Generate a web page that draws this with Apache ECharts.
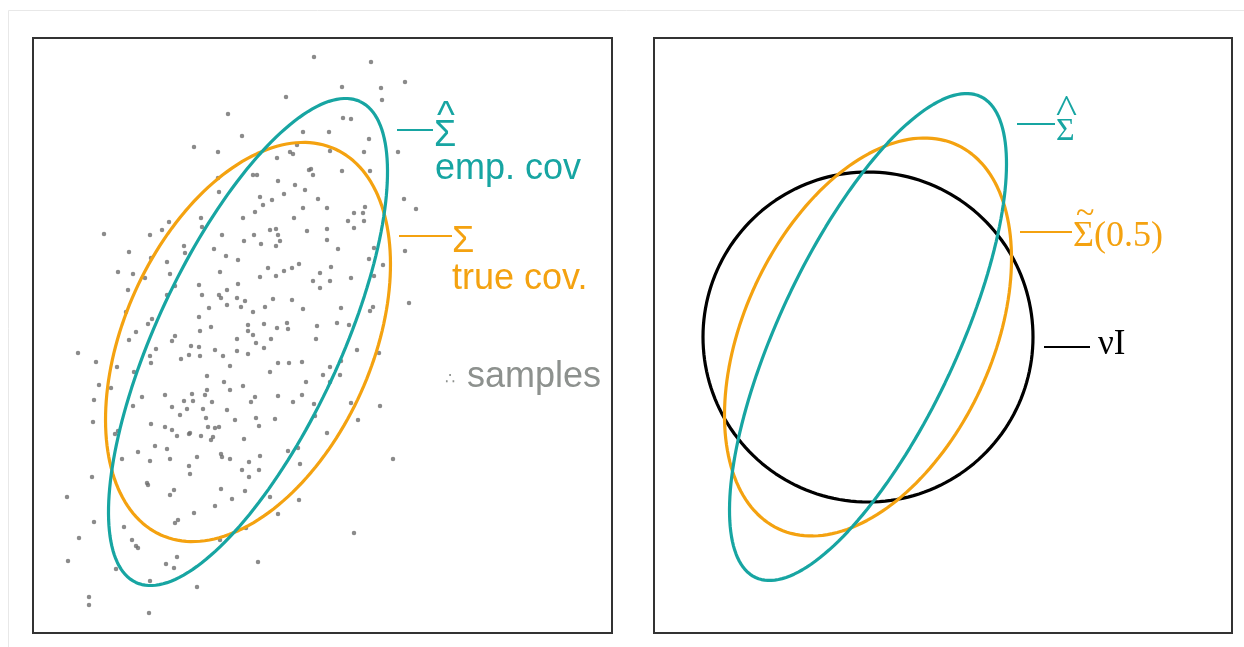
<!DOCTYPE html>
<html>
<head>
<meta charset="utf-8">
<title>Covariance shrinkage</title>
<script src="https://cdn.jsdelivr.net/npm/echarts@6/dist/echarts.min.js"></script>
<style>
  html, body { margin: 0; padding: 0; background: #ffffff; }
  #chart { width: 1244px; height: 647px; }
</style>
</head>
<body>
<div id="chart"></div>
<script>
// Sample points drawn from the true distribution (left panel)
const samplePoints = [
  [-0.20,2.28],[-0.54,1.95],[-0.30,1.90],[-0.30,1.64],[-0.29,1.50],[-0.79,1.20],[-0.47,1.24],[-0.46,1.15],
  [-0.86,1.12],[-1.44,1.08],[-0.98,1.07],[-0.26,1.07],
  [0.66,2.85],[1.23,2.80],[1.57,2.60],[0.94,2.55],[1.33,2.54],[0.38,2.45],[1.34,2.42],[0.95,2.24],
  [1.03,2.23],[-0.06,2.06],[0.55,2.10],[0.81,2.10],[1.21,2.03],[1.50,1.90],[0.49,1.97],[0.42,1.90],
  [0.45,1.88],[0.29,1.84],[0.82,1.91],[1.16,1.90],[0.61,1.72],[0.63,1.73],[0.65,1.67],[0.94,1.71],
  [1.22,1.71],[0.05,1.67],[0.09,1.67],[0.30,1.61],[0.47,1.57],[0.57,1.52],[0.12,1.45],[0.36,1.48],
  [0.24,1.42],[0.70,1.43],[1.56,1.43],[0.15,1.37],[0.55,1.34],[0.79,1.34],[1.17,1.35],[1.68,1.33],
  [0.07,1.30],[1.06,1.29],[1.15,1.29],[0.46,1.24],[-0.05,1.24],[1.00,1.21],[1.16,1.21],[0.22,1.12],
  [0.28,1.13],[0.30,1.07],[0.59,1.11],[0.79,1.13],[1.06,1.14],[0.06,1.07],
  [-1.19,0.90],[-0.97,0.84],[-0.64,0.96],[-0.63,0.89],[-0.34,0.93],[-0.22,0.86],[-0.81,0.80],[-1.30,0.70],
  [-1.15,0.68],[-0.78,0.68],[-1.03,0.64],[-0.28,0.70],[-0.49,0.57],[-0.73,0.56],[-1.20,0.52],[-0.21,0.52],
  [-0.46,0.47],[-0.81,0.47],[-0.29,0.47],[-0.27,0.44],[-0.21,0.37],[-0.39,0.34],[-1.22,0.30],[-0.49,0.25],
  [-0.96,0.23],[-1.00,0.18],[-0.48,0.11],[-0.37,0.15],[-1.12,0.10],[-0.73,0.06],[-0.76,0.01],[-1.19,0.02],
  [-0.57,-0.04],[-0.49,-0.05],[-0.33,-0.08],[-0.92,-0.07],[-1.70,-0.11],[-0.59,-0.13],[-0.48,-0.14],[-0.67,-0.17],
  [-0.25,-0.14],[-0.97,-0.21],[-0.98,-0.14],[-1.52,-0.20],[-0.18,-0.24],[-1.31,-0.25],[-1.14,-0.30],[-0.41,-0.34],
  [-0.24,-0.40],[-1.49,-0.43],[-1.37,-0.46],[-0.18,-0.48],[-0.41,-0.48],[-0.56,-0.52],[-0.43,-0.53],[-0.83,-0.53],
  [-1.06,-0.55],[-1.54,-0.58],[-0.55,-0.59],[-0.64,-0.59],[-0.36,-0.60],[-1.15,-0.64],[-0.76,-0.65],[-0.61,-0.67],
  [-0.45,-0.67],[-0.21,-0.68],[-0.68,-0.73],[-0.42,-0.76],[-0.13,-0.78],[-1.55,-0.80],[-0.97,-0.82],[-0.83,-0.85],
  [-0.76,-0.88],[-0.58,-0.91],[-0.40,-0.85],[-0.33,-0.86],[-0.29,-0.85],[-1.33,-0.92],[-1.30,-0.89],[-0.71,-0.94],
  [-0.47,-0.94],
  [-0.04,1.01],[0.13,0.98],[0.28,0.96],[0.32,1.01],[0.79,1.02],[0.90,0.93],[1.26,0.94],[1.57,0.91],
  [-0.10,0.82],[1.21,0.83],[1.35,0.77],[0.20,0.74],[0.51,0.78],[0.44,0.74],[0.36,0.71],[0.28,0.66],
  [0.83,0.75],[0.72,0.69],[0.12,0.65],[1.26,0.66],[1.03,0.64],[0.65,0.61],[0.82,0.61],[0.72,0.54],
  [-0.10,0.58],[-0.11,0.44],[-0.03,0.41],[0.25,0.43],[0.44,0.42],[1.61,0.39],[-0.07,0.35],[0.17,0.35],
  [0.55,0.33],[0.93,0.34],[1.25,0.35],[1.22,0.31],[0.05,0.30],[0.16,0.18],[0.39,0.19],[0.40,0.13],
  [0.29,0.14],[0.00,0.17],[0.00,0.11],[0.05,0.07],[0.69,0.16],[0.89,0.19],[1.01,0.17],[-0.11,0.03],
  [0.23,0.03],[0.68,0.03],[0.08,-0.01],[0.16,-0.06],[-0.11,-0.09],[0.00,-0.12],[1.09,-0.08],[1.31,-0.11],
  [0.30,-0.21],[0.41,-0.21],[0.54,-0.20],[0.22,-0.30],[0.93,-0.19],[0.82,-0.25],[0.75,-0.33],[0.92,-0.33],
  [0.58,-0.40],[0.82,-0.40],[-0.05,-0.44],[0.07,-0.55],[0.03,-0.60],[0.30,-0.54],[0.45,-0.60],[0.54,-0.53],
  [0.66,-0.62],[0.67,-0.74],[1.03,-0.61],[1.32,-0.64],[0.08,-0.76],[0.11,-0.84],[0.27,-0.77],[1.10,-0.78],
  [0.79,-0.91],
  [-0.59,-0.92],[-0.35,-0.95],[-0.37,-0.98],[-0.93,-1.04],[-0.81,-1.07],[-1.10,-1.10],[-0.27,-1.12],[-0.26,-1.15],
  [-0.51,-1.15],[-0.18,-1.17],[-1.26,-1.17],[-0.98,-1.19],[-0.78,-1.17],[-0.59,-1.24],[-0.58,-1.32],[-1.56,-1.35],
  [-1.01,-1.41],[-1.00,-1.43],[-0.74,-1.48],[-0.78,-1.53],[-0.27,-1.47],[-0.16,-1.57],[-1.81,-1.55],[-0.33,-1.64],
  [-0.54,-1.71],[-1.54,-1.80],[-1.24,-1.85],[-0.73,-1.81],[-0.70,-1.78],[-1.69,-1.96],[-1.16,-1.98],[-1.12,-2.04],
  [-1.10,-2.06],[-0.71,-2.15],[-1.80,-2.19],[-0.82,-2.22],[-0.74,-2.26],[-1.32,-2.27],[-0.98,-2.39],[-0.51,-2.45],
  [-1.59,-2.55],[-1.59,-2.63],[-0.99,-2.71],[-0.28,-1.98],
  [-0.04,-0.97],[0.12,-1.14],[0.01,-1.20],[0.50,-1.06],[0.40,-1.09],[0.52,-1.22],[-0.06,-1.28],[0.11,-1.28],
  [0.01,-1.35],[1.45,-1.17],[-0.03,-1.49],[0.22,-1.55],[0.51,-1.58],[0.30,-1.72],[-0.02,-1.86],[1.06,-1.91],
  [0.10,-2.20]
];

// Covariance ellipses: [centerX, centerY, semiMajor, semiMinor, angleDeg]
const empCovLeft   = [0, 0, 2.653, 0.916, 65.0];
const trueCovLeft  = [0, 0, 2.117, 1.237, 65.7];
const empCovRight  = [0, 0, 2.655, 0.893, 64.95];
const shrunkRight  = [0, 0, 2.117, 1.240, 65.1];
const scaledIdent  = [0, 0, 1.650, 1.650, 0];

// Axis extents of each panel (data units)
const leftXRange  = [-2.15, 3.64];
const leftYRange  = [-2.91, 3.04];
const rightXRange = [-2.14, 3.64];
const rightYRange = [-2.96, 2.99];

const TEAL = '#17a5a2';
const ORANGE = '#f4a210';
const GRAY_DOT = '#6e6e6e';
const GRAY_TEXT = '#8d918e';

// Outline of an ellipse from its parameters, traced every 2 degrees
function ellipseOutline(p) {
  const [cx, cy, a, b, deg] = p;
  const th = deg * Math.PI / 180;
  const pts = [];
  for (let k = 0; k <= 180; k++) {
    const t = k * 2 * Math.PI / 180;
    const u = a * Math.cos(t), v = b * Math.sin(t);
    pts.push([cx + u * Math.cos(th) - v * Math.sin(th), cy + u * Math.sin(th) + v * Math.cos(th)]);
  }
  return pts;
}

function outlineSeries(p, idx, color) {
  return {
    type: 'line', xAxisIndex: idx, yAxisIndex: idx,
    data: ellipseOutline(p), showSymbol: false, symbol: 'none',
    lineStyle: { color: color, width: 3.2 }, z: 3, silent: true
  };
}

function hiddenAxis(gridIndex, range) {
  return {
    type: 'value', gridIndex: gridIndex, min: range[0], max: range[1],
    axisLine: { show: false }, axisTick: { show: false },
    axisLabel: { show: false }, splitLine: { show: false }
  };
}

const SANS = '"Liberation Sans", Arial, Helvetica, sans-serif';
const SERIF = '"Liberation Serif", "Times New Roman", serif';

function label(text, x, y, size, family, color, scaleX) {
  return {
    type: 'text', x: x, y: y, z: 10, scaleX: scaleX || 1,
    style: { text: text, font: size + 'px ' + family, fill: color, align: 'left', verticalAlign: 'middle' }
  };
}
function tick(x1, x2, y, color) {
  return {
    type: 'line', z: 10,
    shape: { x1: x1, y1: y, x2: x2, y2: y },
    style: { stroke: color, lineWidth: 2 }
  };
}

const chart = echarts.init(document.getElementById('chart'), null, { renderer: 'canvas' });

chart.setOption({
  animation: false,
  backgroundColor: '#ffffff',
  grid: [
    { left: 33, top: 38, width: 579, height: 595, show: true, borderColor: '#333333', borderWidth: 2, backgroundColor: 'transparent' },
    { left: 654, top: 38, width: 578, height: 595, show: true, borderColor: '#333333', borderWidth: 2, backgroundColor: 'transparent' }
  ],
  xAxis: [hiddenAxis(0, leftXRange), hiddenAxis(1, rightXRange)],
  yAxis: [hiddenAxis(0, leftYRange), hiddenAxis(1, rightYRange)],
  series: [
    {
      type: 'scatter', xAxisIndex: 0, yAxisIndex: 0, data: samplePoints,
      symbolSize: 4.5, itemStyle: { color: GRAY_DOT }, z: 2, silent: true
    },
    outlineSeries(trueCovLeft, 0, ORANGE),
    outlineSeries(empCovLeft, 0, TEAL),
    outlineSeries(scaledIdent, 1, '#000000'),
    outlineSeries(shrunkRight, 1, ORANGE),
    outlineSeries(empCovRight, 1, TEAL)
  ],
  graphic: [
    // faint page frame
    { type: 'polyline', z: 0, shape: { points: [[8.5, 647], [8.5, 10.5], [1244, 10.5]] }, style: { stroke: '#e8e8e8', lineWidth: 1, fill: null } },

    // left panel annotations
    tick(397, 433, 130, TEAL),
    label('^', 437, 117.5, 38, SANS, TEAL),
    label('Σ', 434, 136.5, 36, SANS, TEAL),
    label('emp. cov', 435, 169.5, 36, SANS, TEAL),
    tick(399, 452, 236, ORANGE),
    label('Σ', 452, 242, 36, SANS, ORANGE),
    label('true cov.', 452, 279, 36, SANS, ORANGE),
    label('∴', 445, 380, 16, '"DejaVu Sans", sans-serif', GRAY_TEXT),
    label('samples', 467, 377, 36, SANS, GRAY_TEXT),

    // right panel annotations
    tick(1017, 1055, 124, TEAL),
    label('^', 1056, 112, 40, SERIF, TEAL, 1.12),
    label('Σ', 1056, 132, 32, SERIF, TEAL),
    tick(1020, 1072, 232, ORANGE),
    label('~', 1076, 214, 34, SERIF, ORANGE),
    label('Σ(0.5)', 1073, 236.5, 36, SERIF, ORANGE),
    tick(1044, 1090, 347, '#000000'),
    label('νI', 1098, 345, 35, SERIF, '#000000')
  ]
});
</script>
</body>
</html>
